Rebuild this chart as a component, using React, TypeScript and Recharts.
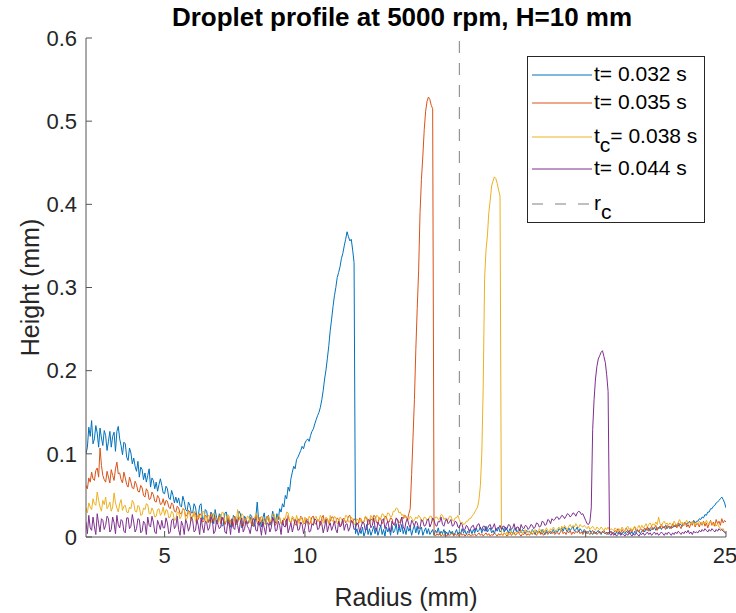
import React from "react";
import {
	LineChart,
	Line,
	XAxis,
	YAxis,
	ReferenceLine,
	Legend
} from "recharts";

const FONT = "'Liberation Sans', Arial, Helvetica, sans-serif";

// radius grid (mm), one row per mm
const radius = [
	2.2, 2.25, 2.3, 2.35, 2.4, 2.45, 2.5, 2.55, 2.6, 2.65, 2.7, 2.75, 2.8, 2.85, 2.9, 2.95,
	3.0, 3.05, 3.1, 3.15, 3.2, 3.25, 3.3, 3.35, 3.4, 3.45, 3.5, 3.55, 3.6, 3.65, 3.7, 3.75, 3.8, 3.85, 3.9, 3.95,
	4.0, 4.05, 4.1, 4.15, 4.2, 4.25, 4.3, 4.35, 4.4, 4.45, 4.5, 4.55, 4.6, 4.65, 4.7, 4.75, 4.8, 4.85, 4.9, 4.95,
	5.0, 5.05, 5.1, 5.15, 5.2, 5.25, 5.3, 5.35, 5.4, 5.45, 5.5, 5.55, 5.6, 5.65, 5.7, 5.75, 5.8, 5.85, 5.9, 5.95,
	6.0, 6.05, 6.1, 6.15, 6.2, 6.25, 6.3, 6.35, 6.4, 6.45, 6.5, 6.55, 6.6, 6.65, 6.7, 6.75, 6.8, 6.85, 6.9, 6.95,
	7.0, 7.05, 7.1, 7.15, 7.2, 7.25, 7.3, 7.35, 7.4, 7.45, 7.5, 7.55, 7.6, 7.65, 7.7, 7.75, 7.8, 7.85, 7.9, 7.95,
	8.0, 8.05, 8.1, 8.15, 8.2, 8.25, 8.3, 8.35, 8.4, 8.45, 8.5, 8.55, 8.6, 8.65, 8.7, 8.75, 8.8, 8.85, 8.9, 8.95,
	9.0, 9.05, 9.1, 9.15, 9.2, 9.25, 9.3, 9.35, 9.4, 9.45, 9.5, 9.55, 9.6, 9.65, 9.7, 9.75, 9.8, 9.85, 9.9, 9.95,
	10.0, 10.05, 10.1, 10.15, 10.2, 10.25, 10.3, 10.35, 10.4, 10.45, 10.5, 10.55, 10.6, 10.65, 10.7, 10.75, 10.8, 10.85, 10.9, 10.95,
	11.0, 11.05, 11.1, 11.15, 11.2, 11.25, 11.3, 11.35, 11.4, 11.45, 11.5, 11.55, 11.6, 11.65, 11.7, 11.75, 11.8, 11.85, 11.9, 11.95,
	12.0, 12.05, 12.1, 12.15, 12.2, 12.25, 12.3, 12.35, 12.4, 12.45, 12.5, 12.55, 12.6, 12.65, 12.7, 12.75, 12.8, 12.85, 12.9, 12.95,
	13.0, 13.05, 13.1, 13.15, 13.2, 13.25, 13.3, 13.35, 13.4, 13.45, 13.5, 13.55, 13.6, 13.65, 13.7, 13.75, 13.8, 13.85, 13.9, 13.95,
	14.0, 14.05, 14.1, 14.15, 14.2, 14.25, 14.3, 14.35, 14.4, 14.45, 14.5, 14.55, 14.6, 14.65, 14.7, 14.75, 14.8, 14.85, 14.9, 14.95,
	15.0, 15.05, 15.1, 15.15, 15.2, 15.25, 15.3, 15.35, 15.4, 15.45, 15.5, 15.55, 15.6, 15.65, 15.7, 15.75, 15.8, 15.85, 15.9, 15.95,
	16.0, 16.05, 16.1, 16.15, 16.2, 16.25, 16.3, 16.35, 16.4, 16.45, 16.5, 16.55, 16.6, 16.65, 16.7, 16.75, 16.8, 16.85, 16.9, 16.95,
	17.0, 17.05, 17.1, 17.15, 17.2, 17.25, 17.3, 17.35, 17.4, 17.45, 17.5, 17.55, 17.6, 17.65, 17.7, 17.75, 17.8, 17.85, 17.9, 17.95,
	18.0, 18.05, 18.1, 18.15, 18.2, 18.25, 18.3, 18.35, 18.4, 18.45, 18.5, 18.55, 18.6, 18.65, 18.7, 18.75, 18.8, 18.85, 18.9, 18.95,
	19.0, 19.05, 19.1, 19.15, 19.2, 19.25, 19.3, 19.35, 19.4, 19.45, 19.5, 19.55, 19.6, 19.65, 19.7, 19.75, 19.8, 19.85, 19.9, 19.95,
	20.0, 20.05, 20.1, 20.15, 20.2, 20.25, 20.3, 20.35, 20.4, 20.45, 20.5, 20.55, 20.6, 20.65, 20.7, 20.75, 20.8, 20.85, 20.9, 20.95,
	21.0, 21.05, 21.1, 21.15, 21.2, 21.25, 21.3, 21.35, 21.4, 21.45, 21.5, 21.55, 21.6, 21.65, 21.7, 21.75, 21.8, 21.85, 21.9, 21.95,
	22.0, 22.05, 22.1, 22.15, 22.2, 22.25, 22.3, 22.35, 22.4, 22.45, 22.5, 22.55, 22.6, 22.65, 22.7, 22.75, 22.8, 22.85, 22.9, 22.95,
	23.0, 23.05, 23.1, 23.15, 23.2, 23.25, 23.3, 23.35, 23.4, 23.45, 23.5, 23.55, 23.6, 23.65, 23.7, 23.75, 23.8, 23.85, 23.9, 23.95,
	24.0, 24.05, 24.1, 24.15, 24.2, 24.25, 24.3, 24.35, 24.4, 24.45, 24.5, 24.55, 24.6, 24.65, 24.7, 24.75, 24.8, 24.85, 24.9, 24.95,
	25.0
];

// t = 0.032 s
const h032 = [
	0.100, 0.108, 0.132, 0.121, 0.140, 0.112, 0.118, 0.134, 0.125, 0.108, 0.131, 0.119, 0.110, 0.128, 0.122, 0.104,
	0.115, 0.127, 0.108, 0.121, 0.126, 0.103, 0.127, 0.133, 0.118, 0.110, 0.099, 0.114, 0.112, 0.096, 0.092, 0.107, 0.101, 0.088, 0.095, 0.085,
	0.079, 0.091, 0.072, 0.084, 0.081, 0.069, 0.077, 0.066, 0.074, 0.082, 0.060, 0.071, 0.068, 0.058, 0.066, 0.055, 0.063, 0.070, 0.062, 0.053,
	0.052, 0.061, 0.058, 0.047, 0.045, 0.056, 0.050, 0.041, 0.048, 0.041, 0.047, 0.038, 0.036, 0.049, 0.043, 0.033, 0.031, 0.042, 0.038, 0.029,
	0.029, 0.040, 0.036, 0.024, 0.025, 0.038, 0.040, 0.021, 0.022, 0.033, 0.031, 0.019, 0.019, 0.030, 0.027, 0.016, 0.033, 0.024, 0.018, 0.028,
	0.026, 0.013, 0.015, 0.029, 0.030, 0.017, 0.021, 0.012, 0.012, 0.026, 0.024, 0.015, 0.018, 0.031, 0.028, 0.011, 0.014, 0.025, 0.022, 0.016,
	0.017, 0.027, 0.025, 0.013, 0.013, 0.024, 0.042, 0.020, 0.019, 0.012, 0.023, 0.029, 0.015, 0.022, 0.026, 0.014, 0.020, 0.031, 0.024, 0.017,
	0.028, 0.021, 0.034, 0.030, 0.040, 0.036, 0.050, 0.046, 0.060, 0.055, 0.070, 0.078, 0.085, 0.082, 0.093, 0.096, 0.100, 0.104, 0.109, 0.106,
	0.113, 0.116, 0.118, 0.115, 0.122, 0.127, 0.130, 0.136, 0.141, 0.146, 0.150, 0.156, 0.165, 0.176, 0.190, 0.201, 0.215, 0.230, 0.248, 0.262,
	0.277, 0.290, 0.300, 0.312, 0.318, 0.325, 0.335, 0.341, 0.350, 0.358, 0.367, 0.361, 0.356, 0.358, 0.345, 0.330, 0.004, 0.010, 0.002, 0.008,
	0.004, 0.012, 0.001, 0.006, 0.015, 0.003, 0.010, 0.002, 0.007, 0.013, 0.004, 0.011, 0.002, 0.008, 0.014, 0.003, 0.009, 0.001, 0.012, 0.006,
	0.011, 0.002, 0.014, 0.005, 0.008, 0.016, 0.003, 0.012, 0.006, 0.015, 0.004, 0.010, 0.003, 0.013, 0.007, 0.011, 0.002, 0.009, 0.014, 0.005,
	0.013, 0.003, 0.009, 0.012, 0.002, 0.007, 0.011, 0.004, 0.010, 0.003, 0.006, 0.009, 0.002, 0.008, 0.005, 0.011, 0.003, 0.007, 0.004, 0.009,
	0.003, 0.006, 0.002, 0.008, 0.004, 0.007, 0.002, 0.005, 0.009, 0.003, 0.006, 0.004, 0.010, 0.005, 0.008, 0.003, 0.007, 0.005, 0.009, 0.004,
	0.009, 0.005, 0.011, 0.006, 0.008, 0.012, 0.005, 0.010, 0.007, 0.013, 0.006, 0.009, 0.011, 0.005, 0.008, 0.004, 0.010, 0.007, 0.012, 0.006,
	0.008, 0.011, 0.006, 0.012, 0.009, 0.005, 0.010, 0.007, 0.004, 0.009, 0.011, 0.006, 0.008, 0.010, 0.005, 0.009, 0.007, 0.004, 0.008, 0.006,
	0.007, 0.004, 0.009, 0.006, 0.003, 0.008, 0.005, 0.007, 0.004, 0.009, 0.006, 0.003, 0.008, 0.005, 0.007, 0.004, 0.006, 0.009, 0.005, 0.007,
	0.006, 0.010, 0.008, 0.011, 0.007, 0.012, 0.009, 0.006, 0.011, 0.008, 0.010, 0.013, 0.007, 0.009, 0.012, 0.006, 0.010, 0.008, 0.005, 0.009,
	0.007, 0.004, 0.006, 0.008, 0.005, 0.003, 0.007, 0.004, 0.006, 0.008, 0.005, 0.003, 0.007, 0.005, 0.004, 0.006, 0.003, 0.005, 0.007, 0.004,
	0.005, 0.003, 0.006, 0.004, 0.007, 0.003, 0.005, 0.006, 0.004, 0.007, 0.005, 0.008, 0.004, 0.006, 0.003, 0.007, 0.005, 0.008, 0.006, 0.004,
	0.007, 0.009, 0.006, 0.010, 0.008, 0.011, 0.007, 0.010, 0.009, 0.012, 0.008, 0.011, 0.010, 0.013, 0.009, 0.012, 0.011, 0.014, 0.010, 0.013,
	0.010, 0.013, 0.011, 0.014, 0.012, 0.015, 0.013, 0.016, 0.014, 0.013, 0.016, 0.018, 0.015, 0.017, 0.019, 0.016, 0.018, 0.020, 0.017, 0.019,
	0.019, 0.022, 0.021, 0.024, 0.023, 0.027, 0.026, 0.030, 0.030, 0.034, 0.034, 0.037, 0.038, 0.041, 0.042, 0.044, 0.046, 0.048, 0.045, 0.041,
	0.035
];

// t = 0.035 s
const h035 = [
	0.062, 0.058, 0.071, 0.066, 0.078, 0.070, 0.068, 0.080, 0.083, 0.072, 0.107, 0.086, 0.074, 0.069, 0.066, 0.079,
	0.072, 0.065, 0.081, 0.074, 0.068, 0.082, 0.090, 0.076, 0.077, 0.069, 0.065, 0.078, 0.071, 0.063, 0.060, 0.072, 0.066, 0.059, 0.058, 0.067,
	0.063, 0.055, 0.054, 0.062, 0.059, 0.050, 0.048, 0.058, 0.055, 0.045, 0.046, 0.054, 0.051, 0.043, 0.042, 0.050, 0.047, 0.039, 0.040, 0.046,
	0.038, 0.044, 0.043, 0.036, 0.034, 0.041, 0.039, 0.031, 0.030, 0.037, 0.035, 0.028, 0.028, 0.034, 0.033, 0.025, 0.026, 0.032, 0.030, 0.023,
	0.024, 0.030, 0.029, 0.020, 0.021, 0.028, 0.027, 0.018, 0.019, 0.026, 0.025, 0.017, 0.022, 0.028, 0.017, 0.021, 0.024, 0.016, 0.020, 0.026,
	0.016, 0.022, 0.023, 0.015, 0.019, 0.026, 0.014, 0.020, 0.021, 0.013, 0.025, 0.018, 0.017, 0.024, 0.020, 0.014, 0.013, 0.021, 0.022, 0.016,
	0.018, 0.024, 0.015, 0.013, 0.021, 0.026, 0.017, 0.014, 0.024, 0.019, 0.014, 0.022, 0.019, 0.025, 0.022, 0.015, 0.016, 0.023, 0.020, 0.014,
	0.018, 0.025, 0.023, 0.016, 0.015, 0.022, 0.020, 0.014, 0.026, 0.019, 0.017, 0.023, 0.021, 0.015, 0.014, 0.022, 0.019, 0.025, 0.023, 0.017,
	0.016, 0.022, 0.021, 0.015, 0.018, 0.024, 0.025, 0.017, 0.015, 0.021, 0.020, 0.014, 0.023, 0.026, 0.017, 0.020, 0.022, 0.016, 0.019, 0.024,
	0.024, 0.017, 0.018, 0.023, 0.021, 0.014, 0.015, 0.022, 0.022, 0.017, 0.019, 0.025, 0.026, 0.018, 0.017, 0.022, 0.020, 0.015, 0.016, 0.023,
	0.021, 0.016, 0.018, 0.024, 0.023, 0.015, 0.016, 0.022, 0.020, 0.026, 0.025, 0.017, 0.017, 0.023, 0.022, 0.016, 0.019, 0.025, 0.024, 0.018,
	0.018, 0.023, 0.022, 0.015, 0.016, 0.022, 0.021, 0.017, 0.019, 0.024, 0.022, 0.026, 0.025, 0.020, 0.028, 0.034, 0.075, 0.120, 0.165, 0.225,
	0.275, 0.320, 0.390, 0.430, 0.458, 0.490, 0.512, 0.524, 0.529, 0.526, 0.519, 0.515, 0.003, 0.001, 0.004, 0.002, 0.005, 0.001, 0.003, 0.002,
	0.003, 0.001, 0.004, 0.002, 0.003, 0.005, 0.001, 0.004, 0.002, 0.003, 0.001, 0.005, 0.002, 0.004, 0.001, 0.003, 0.002, 0.004, 0.001, 0.003,
	0.002, 0.004, 0.001, 0.003, 0.005, 0.002, 0.004, 0.001, 0.003, 0.005, 0.002, 0.004, 0.001, 0.003, 0.002, 0.005, 0.003, 0.001, 0.004, 0.002,
	0.004, 0.002, 0.005, 0.003, 0.001, 0.004, 0.006, 0.002, 0.003, 0.005, 0.002, 0.004, 0.006, 0.003, 0.001, 0.004, 0.003, 0.005, 0.002, 0.004,
	0.002, 0.005, 0.003, 0.006, 0.004, 0.002, 0.005, 0.007, 0.003, 0.005, 0.002, 0.004, 0.006, 0.003, 0.005, 0.007, 0.004, 0.006, 0.003, 0.005,
	0.005, 0.003, 0.006, 0.008, 0.004, 0.006, 0.003, 0.007, 0.005, 0.008, 0.003, 0.006, 0.004, 0.007, 0.005, 0.008, 0.004, 0.006, 0.003, 0.007,
	0.004, 0.007, 0.005, 0.003, 0.006, 0.008, 0.004, 0.006, 0.003, 0.005, 0.007, 0.004, 0.006, 0.008, 0.005, 0.003, 0.006, 0.004, 0.007, 0.005,
	0.005, 0.008, 0.006, 0.010, 0.007, 0.005, 0.009, 0.006, 0.008, 0.011, 0.007, 0.005, 0.009, 0.006, 0.010, 0.012, 0.007, 0.009, 0.006, 0.010,
	0.009, 0.006, 0.011, 0.008, 0.012, 0.007, 0.010, 0.013, 0.009, 0.011, 0.014, 0.008, 0.012, 0.010, 0.015, 0.011, 0.013, 0.009, 0.014, 0.012,
	0.013, 0.010, 0.016, 0.012, 0.015, 0.011, 0.017, 0.013, 0.010, 0.016, 0.014, 0.018, 0.012, 0.015, 0.011, 0.017, 0.014, 0.019, 0.012, 0.016,
	0.016, 0.012, 0.018, 0.014, 0.019, 0.013, 0.017, 0.011, 0.016, 0.020, 0.014, 0.018, 0.013, 0.021, 0.016, 0.019, 0.014, 0.022, 0.017, 0.020,
	0.018
];

// t_c = 0.038 s
const h038 = [
	0.035, 0.029, 0.041, 0.036, 0.033, 0.046, 0.040, 0.038, 0.054, 0.044, 0.036, 0.031, 0.044, 0.039, 0.048, 0.034,
	0.037, 0.042, 0.031, 0.036, 0.053, 0.041, 0.035, 0.030, 0.040, 0.045, 0.032, 0.037, 0.038, 0.030, 0.029, 0.036, 0.034, 0.044, 0.041, 0.031,
	0.030, 0.038, 0.036, 0.026, 0.027, 0.035, 0.033, 0.040, 0.039, 0.028, 0.028, 0.035, 0.031, 0.024, 0.025, 0.033, 0.034, 0.026, 0.029, 0.036,
	0.026, 0.033, 0.032, 0.023, 0.024, 0.031, 0.029, 0.020, 0.021, 0.030, 0.030, 0.022, 0.025, 0.034, 0.033, 0.021, 0.022, 0.030, 0.027, 0.019,
	0.024, 0.031, 0.019, 0.016, 0.028, 0.023, 0.022, 0.030, 0.031, 0.020, 0.018, 0.026, 0.025, 0.017, 0.021, 0.029, 0.027, 0.019, 0.016, 0.024,
	0.023, 0.030, 0.029, 0.018, 0.019, 0.027, 0.025, 0.016, 0.017, 0.024, 0.022, 0.015, 0.033, 0.024, 0.020, 0.028, 0.026, 0.017, 0.018, 0.025,
	0.024, 0.017, 0.016, 0.023, 0.021, 0.028, 0.027, 0.018, 0.019, 0.025, 0.023, 0.016, 0.015, 0.023, 0.025, 0.018, 0.020, 0.027, 0.028, 0.019,
	0.019, 0.026, 0.024, 0.016, 0.017, 0.023, 0.022, 0.030, 0.029, 0.019, 0.018, 0.025, 0.023, 0.016, 0.026, 0.020, 0.016, 0.024, 0.021, 0.015,
	0.024, 0.017, 0.018, 0.025, 0.022, 0.015, 0.016, 0.023, 0.025, 0.019, 0.020, 0.026, 0.023, 0.017, 0.017, 0.024, 0.021, 0.015, 0.026, 0.020,
	0.019, 0.025, 0.023, 0.016, 0.017, 0.024, 0.022, 0.017, 0.020, 0.026, 0.025, 0.018, 0.018, 0.024, 0.021, 0.015, 0.016, 0.022, 0.020, 0.017,
	0.022, 0.017, 0.018, 0.025, 0.024, 0.019, 0.020, 0.026, 0.023, 0.018, 0.019, 0.026, 0.025, 0.021, 0.022, 0.028, 0.027, 0.022, 0.024, 0.029,
	0.028, 0.024, 0.025, 0.031, 0.031, 0.035, 0.034, 0.029, 0.030, 0.026, 0.027, 0.023, 0.024, 0.020, 0.021, 0.025, 0.023, 0.019, 0.020, 0.024,
	0.022, 0.026, 0.024, 0.019, 0.019, 0.024, 0.023, 0.020, 0.021, 0.025, 0.025, 0.019, 0.020, 0.024, 0.024, 0.021, 0.022, 0.027, 0.026, 0.021,
	0.023, 0.019, 0.021, 0.025, 0.025, 0.020, 0.019, 0.023, 0.023, 0.026, 0.021, 0.016, 0.018, 0.015, 0.016, 0.019, 0.019, 0.022, 0.022, 0.025,
	0.027, 0.030, 0.033, 0.036, 0.045, 0.062, 0.100, 0.180, 0.310, 0.345, 0.362, 0.390, 0.405, 0.422, 0.428, 0.433, 0.431, 0.425, 0.417, 0.410,
	0.004, 0.002, 0.005, 0.003, 0.006, 0.002, 0.004, 0.007, 0.003, 0.005, 0.006, 0.004, 0.007, 0.005, 0.008, 0.004, 0.006, 0.009, 0.005, 0.007,
	0.006, 0.004, 0.008, 0.005, 0.009, 0.006, 0.004, 0.010, 0.007, 0.005, 0.009, 0.006, 0.011, 0.008, 0.006, 0.010, 0.008, 0.012, 0.009, 0.007,
	0.010, 0.012, 0.008, 0.013, 0.010, 0.014, 0.011, 0.009, 0.013, 0.015, 0.011, 0.014, 0.012, 0.016, 0.013, 0.011, 0.015, 0.013, 0.012, 0.014,
	0.012, 0.010, 0.013, 0.009, 0.011, 0.013, 0.010, 0.008, 0.012, 0.010, 0.009, 0.012, 0.010, 0.007, 0.011, 0.009, 0.012, 0.008, 0.010, 0.009,
	0.008, 0.011, 0.009, 0.006, 0.010, 0.008, 0.012, 0.009, 0.007, 0.011, 0.013, 0.009, 0.011, 0.008, 0.010, 0.013, 0.009, 0.011, 0.014, 0.010,
	0.014, 0.011, 0.013, 0.016, 0.012, 0.015, 0.017, 0.013, 0.016, 0.014, 0.018, 0.015, 0.024, 0.016, 0.013, 0.017, 0.019, 0.015, 0.017, 0.014,
	0.017, 0.015, 0.013, 0.019, 0.016, 0.014, 0.018, 0.021, 0.016, 0.018, 0.014, 0.017, 0.020, 0.016, 0.018, 0.015, 0.019, 0.017, 0.014, 0.018,
	0.015, 0.019, 0.017, 0.015, 0.018, 0.016, 0.020, 0.017, 0.015, 0.019, 0.016, 0.014, 0.017, 0.013, 0.016, 0.012, 0.011, 0.009, 0.010, 0.006,
	0.004
];

// t = 0.044 s
const h044 = [
	0.018, 0.004, 0.026, 0.011, 0.008, 0.024, 0.012, 0.003, 0.028, 0.016, 0.006, 0.022, 0.020, 0.009, 0.014, 0.025,
	0.022, 0.006, 0.009, 0.024, 0.017, 0.004, 0.026, 0.015, 0.011, 0.021, 0.019, 0.007, 0.005, 0.023, 0.023, 0.010, 0.013, 0.027, 0.018, 0.006,
	0.010, 0.022, 0.021, 0.005, 0.007, 0.019, 0.016, 0.003, 0.024, 0.014, 0.012, 0.025, 0.018, 0.006, 0.004, 0.020, 0.015, 0.009, 0.020, 0.011,
	0.011, 0.023, 0.017, 0.004, 0.006, 0.020, 0.022, 0.010, 0.013, 0.025, 0.009, 0.002, 0.019, 0.014, 0.003, 0.021, 0.016, 0.007, 0.012, 0.024,
	0.020, 0.006, 0.008, 0.021, 0.014, 0.003, 0.023, 0.012, 0.005, 0.019, 0.017, 0.008, 0.011, 0.024, 0.021, 0.004, 0.007, 0.020, 0.015, 0.010,
	0.012, 0.024, 0.019, 0.006, 0.004, 0.018, 0.016, 0.003, 0.022, 0.011, 0.009, 0.021, 0.014, 0.005, 0.018, 0.023, 0.006, 0.010, 0.020, 0.013,
	0.010, 0.004, 0.015, 0.022, 0.021, 0.008, 0.007, 0.019, 0.013, 0.002, 0.018, 0.011, 0.003, 0.017, 0.016, 0.006, 0.011, 0.024, 0.019, 0.007,
	0.008, 0.019, 0.014, 0.003, 0.020, 0.013, 0.012, 0.022, 0.005, 0.011, 0.017, 0.006, 0.013, 0.021, 0.019, 0.008, 0.009, 0.018, 0.015, 0.004,
	0.011, 0.020, 0.018, 0.006, 0.007, 0.016, 0.014, 0.022, 0.020, 0.009, 0.010, 0.019, 0.016, 0.005, 0.012, 0.021, 0.006, 0.013, 0.017, 0.008,
	0.013, 0.019, 0.009, 0.005, 0.019, 0.012, 0.014, 0.021, 0.008, 0.015, 0.016, 0.007, 0.011, 0.020, 0.018, 0.009, 0.010, 0.017, 0.015, 0.006,
	0.012, 0.018, 0.017, 0.008, 0.009, 0.021, 0.020, 0.011, 0.014, 0.023, 0.011, 0.007, 0.018, 0.014, 0.013, 0.020, 0.022, 0.010, 0.015, 0.019,
	0.010, 0.006, 0.019, 0.015, 0.014, 0.023, 0.021, 0.011, 0.016, 0.024, 0.012, 0.009, 0.018, 0.022, 0.015, 0.011, 0.020, 0.017, 0.013, 0.019,
	0.017, 0.010, 0.011, 0.021, 0.019, 0.013, 0.014, 0.020, 0.022, 0.012, 0.016, 0.023, 0.020, 0.014, 0.013, 0.019, 0.018, 0.024, 0.015, 0.013,
	0.019, 0.022, 0.016, 0.018, 0.021, 0.013, 0.014, 0.019, 0.018, 0.012, 0.011, 0.017, 0.015, 0.008, 0.009, 0.014, 0.012, 0.007, 0.010, 0.013,
	0.014, 0.008, 0.011, 0.015, 0.016, 0.010, 0.009, 0.013, 0.013, 0.007, 0.010, 0.014, 0.015, 0.009, 0.012, 0.016, 0.008, 0.011, 0.011, 0.014,
	0.009, 0.013, 0.013, 0.008, 0.010, 0.015, 0.014, 0.009, 0.011, 0.016, 0.008, 0.012, 0.012, 0.007, 0.015, 0.011, 0.010, 0.014, 0.013, 0.009,
	0.011, 0.015, 0.014, 0.010, 0.012, 0.017, 0.016, 0.012, 0.013, 0.019, 0.018, 0.014, 0.015, 0.021, 0.020, 0.016, 0.022, 0.020, 0.021, 0.024,
	0.024, 0.021, 0.023, 0.026, 0.025, 0.022, 0.025, 0.028, 0.027, 0.024, 0.026, 0.029, 0.028, 0.025, 0.029, 0.031, 0.030, 0.027, 0.028, 0.024,
	0.020, 0.016, 0.015, 0.018, 0.035, 0.129, 0.165, 0.190, 0.205, 0.214, 0.218, 0.222, 0.224, 0.217, 0.210, 0.195, 0.175, 0.004, 0.002, 0.005,
	0.002, 0.004, 0.001, 0.003, 0.005, 0.002, 0.004, 0.003, 0.001, 0.004, 0.002, 0.005, 0.003, 0.001, 0.004, 0.002, 0.005, 0.003, 0.001, 0.004,
	0.003, 0.005, 0.002, 0.004, 0.006, 0.003, 0.005, 0.002, 0.004, 0.006, 0.003, 0.005, 0.002, 0.004, 0.006, 0.004, 0.002, 0.005, 0.003, 0.006,
	0.004, 0.002, 0.005, 0.003, 0.006, 0.004, 0.007, 0.005, 0.003, 0.006, 0.004, 0.007, 0.005, 0.008, 0.004, 0.006, 0.003, 0.007, 0.005, 0.006,
	0.005, 0.008, 0.006, 0.009, 0.007, 0.010, 0.008, 0.006, 0.009, 0.007, 0.010, 0.008, 0.006, 0.009, 0.007, 0.010, 0.008, 0.009, 0.007, 0.006,
	0.004
];

const yTicks = [0, 0.1, 0.2, 0.3, 0.4, 0.5, 0.6];
const xTicks = [5, 10, 15, 20, 25];
const rc = 15.5;

const data = radius.map((r, i) => ({
	r,
	a: h032[i],
	b: h035[i],
	c: h038[i],
	d: h044[i]
}));

const legendRows = [
	{ key: "a", color: "#0072BD", t: "t", sub: "", rest: "= 0.032 s", top: 18 },
	{ key: "b", color: "#D95319", t: "t", sub: "", rest: "= 0.035 s", top: 46 },
	{ key: "c", color: "#EDB120", t: "t", sub: "c", rest: "= 0.038 s", top: 80 },
	{ key: "d", color: "#7E2F8E", t: "t", sub: "", rest: "= 0.044 s", top: 112 },
	{ key: "rc", color: "#808080", t: "r", sub: "c", rest: "", top: 147, dash: true }
];

const LegendBox = () => (
	<div
		style={{
			position: "relative",
			width: 178,
			height: 167,
			boxSizing: "border-box",
			border: "1px solid #262626",
			background: "#fff",
			fontFamily: FONT,
			fontSize: 21,
			color: "#000"
		}}
	>
		{legendRows.map((row) => (
			<div key={row.key}>
				<svg
					width={62}
					height={4}
					style={{ position: "absolute", left: 4, top: row.top - 2 }}
				>
					<line
						x1={0}
						y1={2}
						x2={60}
						y2={2}
						stroke={row.color}
						strokeWidth={1}
						strokeDasharray={row.dash ? "11 12" : undefined}
					/>
				</svg>
				<div
					style={{
						position: "absolute",
						left: 66,
						top: row.top - 13,
						lineHeight: "24px",
						whiteSpace: "nowrap"
					}}
				>
					{row.t}
					{row.sub && (
						<span style={{ position: "relative", top: 9 }}>{row.sub}</span>
					)}
					{row.rest}
				</div>
			</div>
		))}
	</div>
);

const App = () => {
	return (
		<div
			style={{
				position: "absolute",
				left: 0,
				top: 0,
				width: 736,
				height: 613,
				background: "#fff"
			}}
		>
			<div
				style={{
					position: "absolute",
					left: 0,
					width: 804,
					top: 2,
					textAlign: "center",
					fontFamily: FONT,
					fontWeight: "bold",
					fontSize: 26,
					color: "#000"
				}}
			>
				Droplet profile at 5000 rpm, H=10 mm
			</div>
			<LineChart
				width={736}
				height={613}
				data={data}
				margin={{ top: 38, right: 10, bottom: 0, left: 0 }}
			>
				<XAxis
					dataKey="r"
					type="number"
					domain={[2.2, 25]}
					ticks={xTicks}
					allowDataOverflow
					height={76}
					stroke="#555"
					tickSize={-6}
					tickMargin={16}
					tick={{ fill: "#262626", fontSize: 22, fontFamily: FONT }}
					label={{
						value: "Radius (mm)",
						position: "insideBottom",
						offset: 7,
						fill: "#262626",
						fontSize: 25,
						fontFamily: FONT
					}}
				/>
				<YAxis
					type="number"
					domain={[0, 0.6]}
					ticks={yTicks}
					width={86}
					stroke="#555"
					tickSize={-6}
					tickMargin={15}
					tickFormatter={(v) => (v === 0 ? "0" : v.toFixed(1))}
					tick={{ fill: "#262626", fontSize: 22, fontFamily: FONT }}
					label={{
						content: (p: any) => {
							const vb = p.viewBox;
							const cx = 30;
							const cy = vb.y + vb.height / 2;
							return (
								<text
									x={cx}
									y={cy}
									transform={`rotate(-90 ${cx} ${cy})`}
									textAnchor="middle"
									dominantBaseline="central"
									fill="#262626"
									fontSize={25}
									fontFamily={FONT}
								>
									Height (mm)
								</text>
							);
						}
					}}
				/>
				<ReferenceLine
					x={rc}
					stroke="#808080"
					strokeDasharray="12 10"
					strokeWidth={1}
				/>
				<Line type="linear" dataKey="a" stroke="#0072BD" strokeWidth={1} dot={false} isAnimationActive={false} />
				<Line type="linear" dataKey="b" stroke="#D95319" strokeWidth={1} dot={false} isAnimationActive={false} />
				<Line type="linear" dataKey="c" stroke="#EDB120" strokeWidth={1} dot={false} isAnimationActive={false} />
				<Line type="linear" dataKey="d" stroke="#7E2F8E" strokeWidth={1} dot={false} isAnimationActive={false} />
				<Legend
					layout="vertical"
					align="center"
					verticalAlign="middle"
					content={() => <LegendBox />}
					wrapperStyle={{ left: 527, top: 56, width: 178, height: 167 }}
				/>
			</LineChart>
		</div>
	);
};

export default App;
